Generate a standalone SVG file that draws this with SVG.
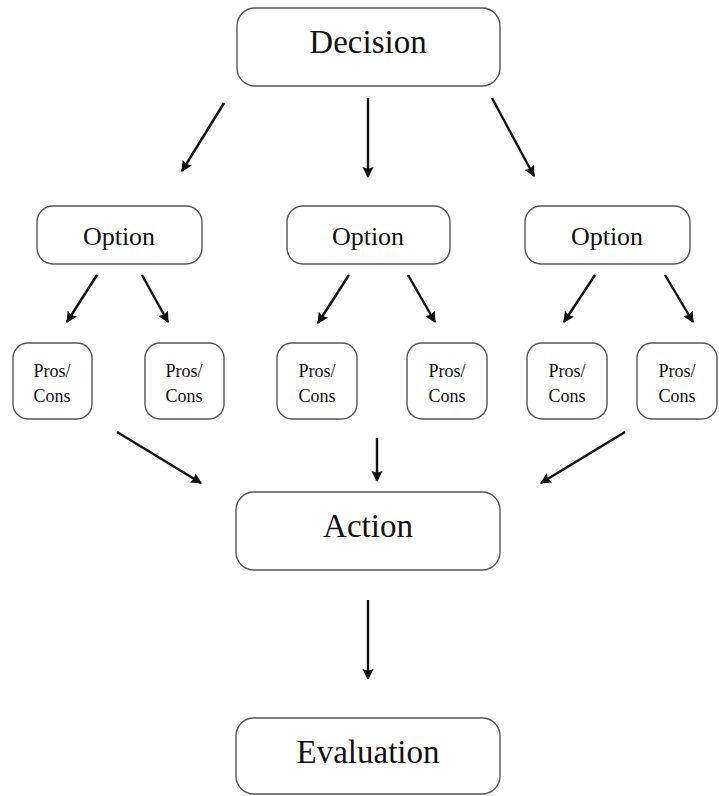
<svg xmlns="http://www.w3.org/2000/svg" width="719" height="796" viewBox="0 0 719 796">
<style>
.box{fill:#fff;stroke:#555;stroke-width:1.4}
.t{font-family:"Liberation Serif","DejaVu Serif",serif;fill:#111;text-anchor:middle}
.big{font-size:33px}
.mid{font-size:26px}
.sm{font-size:18px}
.arr{stroke:#111;stroke-width:2.4;fill:none;marker-end:url(#ah)}
</style>
<defs>
<marker id="ah" viewBox="0 0 10 10" refX="9" refY="5" markerWidth="4.6" markerHeight="4.6" orient="auto" markerUnits="strokeWidth">
<path d="M0,0 L10,5 L0,10 L1.5,5 Z" fill="#111"/>
</marker>
</defs>
<rect width="719" height="796" fill="#fff"/>
<g id="decision"><rect class="box" x="237" y="8" width="263" height="78" rx="18"/><text class="t big" x="368" y="53">Decision</text></g>
<g id="option1"><rect class="box" x="37" y="206" width="165" height="58" rx="16"/><text class="t mid" x="119" y="245">Option</text></g>
<g id="option2"><rect class="box" x="287" y="206" width="163" height="58" rx="16"/><text class="t mid" x="368" y="245">Option</text></g>
<g id="option3"><rect class="box" x="525" y="206" width="165" height="58" rx="16"/><text class="t mid" x="607" y="245">Option</text></g>
<g id="pc1"><rect class="box" x="13" y="343" width="79" height="76" rx="15"/><text class="t sm" x="52" y="377">Pros/</text><text class="t sm" x="52" y="402">Cons</text></g>
<g id="pc2"><rect class="box" x="145" y="343" width="79" height="76" rx="15"/><text class="t sm" x="184" y="377">Pros/</text><text class="t sm" x="184" y="402">Cons</text></g>
<g id="pc3"><rect class="box" x="277" y="343" width="80" height="76" rx="15"/><text class="t sm" x="317" y="377">Pros/</text><text class="t sm" x="317" y="402">Cons</text></g>
<g id="pc4"><rect class="box" x="407" y="343" width="80" height="76" rx="15"/><text class="t sm" x="447" y="377">Pros/</text><text class="t sm" x="447" y="402">Cons</text></g>
<g id="pc5"><rect class="box" x="527" y="343" width="80" height="76" rx="15"/><text class="t sm" x="567" y="377">Pros/</text><text class="t sm" x="567" y="402">Cons</text></g>
<g id="pc6"><rect class="box" x="637" y="343" width="80" height="76" rx="15"/><text class="t sm" x="677" y="377">Pros/</text><text class="t sm" x="677" y="402">Cons</text></g>
<g id="action"><rect class="box" x="236" y="492" width="264" height="78" rx="18"/><text class="t big" x="368" y="537">Action</text></g>
<g id="evaluation"><rect class="box" x="236" y="718" width="264" height="76" rx="18"/><text class="t big" x="368" y="763">Evaluation</text></g>
<g id="connectors">
<line class="arr" x1="224" y1="103" x2="182" y2="171"/>
<line class="arr" x1="368" y1="98" x2="368" y2="177"/>
<line class="arr" x1="492" y1="98" x2="534" y2="176"/>
<line class="arr" x1="97" y1="275" x2="67" y2="322"/>
<line class="arr" x1="142" y1="275" x2="168" y2="322"/>
<line class="arr" x1="349" y1="275" x2="318" y2="323"/>
<line class="arr" x1="408" y1="275" x2="435" y2="322"/>
<line class="arr" x1="595" y1="275" x2="564" y2="322"/>
<line class="arr" x1="665" y1="275" x2="693" y2="322"/>
<line class="arr" x1="117" y1="432" x2="201" y2="483"/>
<line class="arr" x1="377" y1="438" x2="377" y2="481"/>
<line class="arr" x1="625" y1="432" x2="541" y2="483"/>
<line class="arr" x1="368" y1="600" x2="368" y2="679"/>
</g>
</svg>
